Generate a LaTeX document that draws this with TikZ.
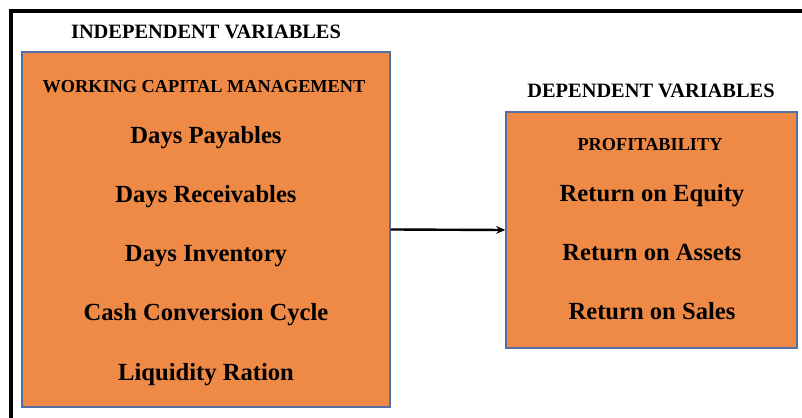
\documentclass[tikz,border=0pt]{standalone}
\usepackage{fontspec}
\setmainfont{Liberation Serif}
\usepackage{tikz}
\usetikzlibrary{arrows.meta, positioning}

\definecolor{boxorange}{RGB}{238,138,70}
\definecolor{boxline}{RGB}{82,112,165}

\tikzset{
    varbox/.style={draw=boxline, line width=0.9pt, fill=boxorange, inner sep=0pt},
    headtext/.style={anchor=base, font=\fontsize{14.5pt}{17pt}\selectfont\bfseries},
    grouptext/.style={anchor=base, font=\fontsize{13pt}{15pt}\selectfont\bfseries},
    itemtext/.style={anchor=base, font=\fontsize{17.5pt}{21pt}\selectfont\bfseries}
}

\begin{document}
\begin{tikzpicture}[x=0.025cm, y=-0.025cm]
                    \useasboundingbox (0,0) rectangle (802,418);
                    \draw[line width=2.2pt] (802,11) -- (11,11) -- (11,418);

                    \node[varbox, minimum width=9.2cm, minimum height=8.875cm] (wcm) at (206,229.5) {};
                    \node[varbox, minimum width=7.275cm, minimum height=5.9cm] (prof) at (651.5,230) {};

                    \node[headtext] (indep) at (206, 39) {INDEPENDENT VARIABLES};
                    \node[headtext] (dep) at (651, 97.3) {DEPENDENT VARIABLES};

                    \node[grouptext] (wcmtitle) at (204, 92.3) {WORKING CAPITAL MANAGEMENT};
                    \node[itemtext] (dpay) at (206, 143.2) {Days Payables};
                    \node[itemtext] (drec) at (206, 202.2) {Days Receivables};
                    \node[itemtext] (dinv) at (206, 261.2) {Days Inventory};
                    \node[itemtext] (ccc) at (206, 320.5) {Cash Conversion Cycle};
                    \node[itemtext] (liq) at (206, 380) {Liquidity Ration};

                    \node[grouptext] (proftitle) at (650, 150.7) {PROFITABILITY};
                    \node[itemtext] (roe) at (652, 201.5) {Return on Equity};
                    \node[itemtext] (roa) at (652, 260.5) {Return on Assets};
                    \node[itemtext] (ros) at (652, 319.5) {Return on Sales};

                    \draw[line width=1.7pt, -{Stealth[length=6.5pt, width=5.5pt]}] (wcm.east) -- (prof.west);
                \end{tikzpicture}
\end{document}
